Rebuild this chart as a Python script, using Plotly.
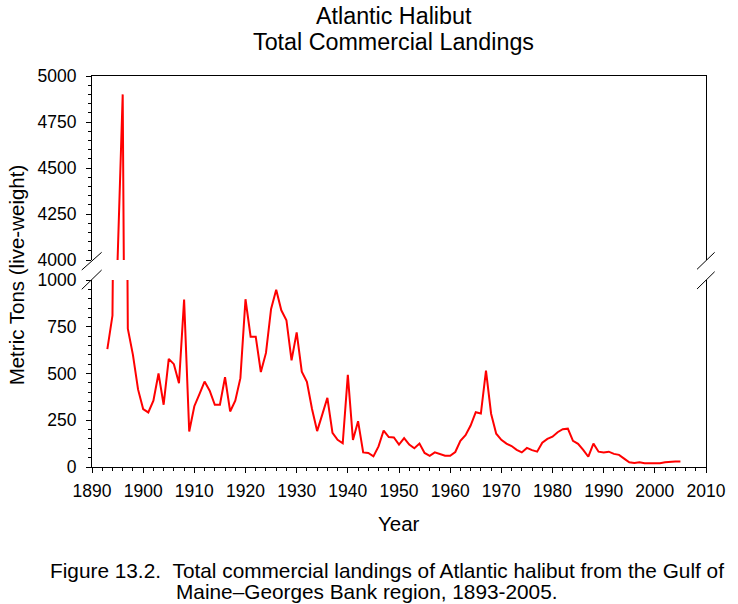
import plotly.graph_objects as go

# ---- data ----
first_year = 1893
landings = [
    630, 810, 4000, 4900, 740, 600, 415,            # 1893-1899
    310, 292, 355, 500, 333, 578, 550, 448, 895, 190,  # 1900-1909
    325, 390, 457, 408, 333, 333, 480, 297, 355, 475,  # 1910-1919
    897, 697, 697, 508, 610, 845, 948, 838, 785, 570,  # 1920-1929
    720, 510, 455, 310, 192, 280, 370, 183, 145, 127,  # 1930-1939
    493, 145, 245, 78, 75, 57, 110, 195, 160, 158,     # 1940-1949
    120, 155, 120, 100, 125, 75, 60, 78, 70, 60,       # 1950-1959
    60, 80, 140, 170, 222, 293, 286, 516, 285, 178,    # 1960-1969
    145, 125, 112, 92, 78, 102, 90, 82, 130, 150,      # 1970-1979
    162, 186, 202, 205, 140, 124, 92, 55, 125, 82,     # 1980-1989
    78, 82, 70, 65, 45, 25, 22, 25, 20, 20,            # 1990-1999
    20, 20, 25, 28, 30, 30,                            # 2000-2005
]
years = [first_year + i for i in range(len(landings))]

title_lines = ["Atlantic Halibut", "Total Commercial Landings"]
x_title = "Year"
y_title = "Metric Tons (live-weight)"
caption_label = "Figure 13.2."
caption_text = ["Total commercial landings of Atlantic halibut from the Gulf of",
                "Maine\u2013Georges Bank region, 1893-2005."]

# ---- layout geometry (pixels) ----
W, H = 738, 604
L, R, T, B = 92, 29, 76, 137
pw, ph = W - L - R, H - T - B
def px(x):
    return (x - L) / pw
def py(y):
    return (H - B - y) / ph

FONT = "Arial, Liberation Sans, sans-serif"
RED = "#FF0000"

fig = go.Figure()
fig.add_trace(go.Scatter(x=years, y=landings, mode="lines",
                         line=dict(color=RED, width=2), xaxis="x", yaxis="y",
                         showlegend=False, hoverinfo="x+y"))
fig.add_trace(go.Scatter(x=years, y=landings, mode="lines",
                         line=dict(color=RED, width=2), xaxis="x2", yaxis="y2",
                         showlegend=False, hoverinfo="x+y"))

tickfont = dict(family=FONT, size=17.5, color="black")
axis_common = dict(showgrid=False, zeroline=False, showline=True,
                   linecolor="black", linewidth=1, ticks="outside",
                   ticklen=5, tickcolor="black", tickwidth=1,
                   tickfont=tickfont)

lower_top = py(280)
upper_bottom = py(260)

fig.update_layout(
    width=W, height=H,
    margin=dict(l=L, r=R, t=T, b=B),
    paper_bgcolor="white", plot_bgcolor="white",
    font=dict(family=FONT, color="black"),
    xaxis=dict(range=[1890, 2010], dtick=10, tick0=1890, anchor="y",
               ticklabelstandoff=3,
               minor=dict(dtick=2, ticklen=3, ticks="outside", tickcolor="black"),
               **axis_common),
    xaxis2=dict(range=[1890, 2010], anchor="y2", side="top", matches="x",
                showgrid=False, zeroline=False, showline=True, linecolor="black",
                linewidth=1, ticks="", showticklabels=False),
    yaxis=dict(domain=[0, lower_top], range=[0, 1000], dtick=250, tick0=0,
               anchor="x", mirror=True, ticklabelstandoff=6,
               minor=dict(dtick=50, ticklen=3, ticks="outside", tickcolor="black"),
               **axis_common),
    yaxis2=dict(domain=[upper_bottom, 1], range=[4000, 5000], dtick=250, tick0=4000,
                anchor="x2", mirror=True, ticklabelstandoff=6,
                minor=dict(dtick=50, ticklen=3, ticks="outside", tickcolor="black"),
                **axis_common),
)

# break marks
breaks = [((81.7, 270), (101.7, 252.3)), ((81.7, 289.3), (101.7, 270)),
          ((700, 269.3), (717.7, 252.3)), ((700, 289), (717.7, 271.7))]
for (x0, y0), (x1, y1) in breaks:
    fig.add_shape(type="line", xref="paper", yref="paper",
                  x0=px(x0), y0=py(y0), x1=px(x1), y1=py(y1),
                  line=dict(color="black", width=1))

ann = []
ann.append(dict(text=title_lines[0], x=px(395), y=py(16), font=dict(size=23.3)))
ann.append(dict(text=title_lines[1], x=px(395), y=py(42), font=dict(size=23.3)))
ann.append(dict(text=x_title, x=px(400), y=py(523), font=dict(size=20.5)))
ann.append(dict(text=y_title, x=px(16), y=py(275), font=dict(size=20.5), textangle=-90))
ann.append(dict(text=caption_label + "\u00a0\u00a0" + caption_text[0], x=px(48),
                y=py(570), xanchor="left", font=dict(size=20.8)))
ann.append(dict(text=caption_text[1], x=px(174), y=py(591), xanchor="left", font=dict(size=20.8)))
for a in ann:
    a.setdefault("xanchor", "center")
    a.update(xref="paper", yref="paper", yanchor="middle", showarrow=False)
    a["font"] = dict(family=FONT, color="black", **a["font"])
fig.update_layout(annotations=ann)

fig.write_html("out.html")
